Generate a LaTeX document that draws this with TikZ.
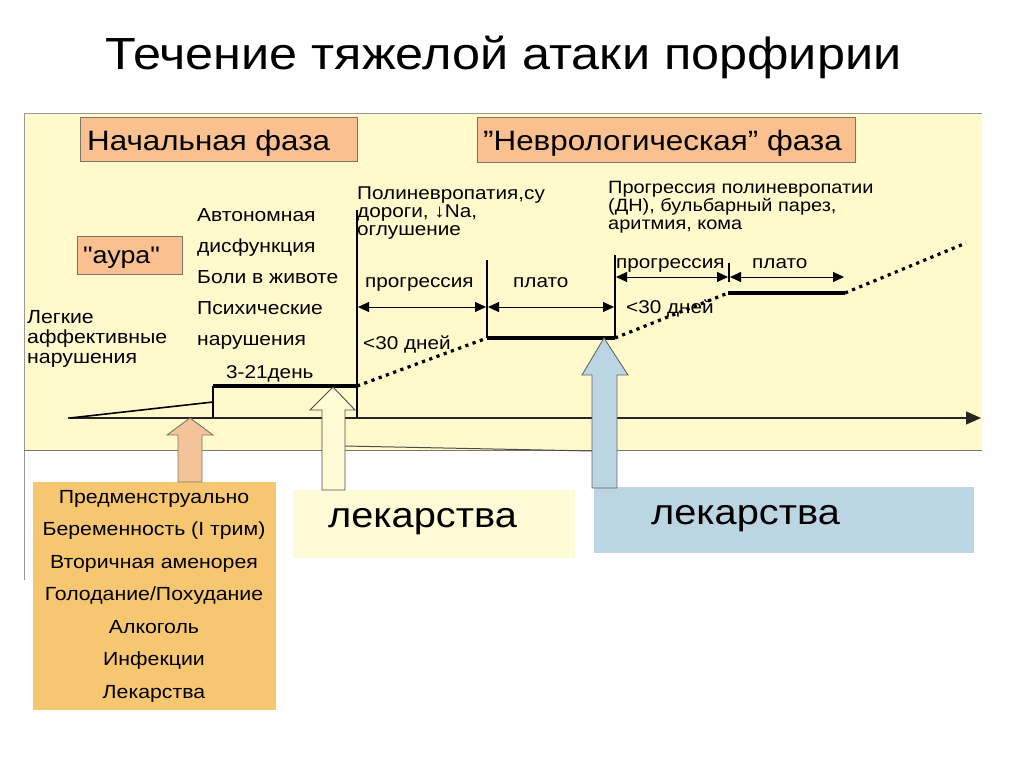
\documentclass[tikz,border=0pt]{standalone}
\usepackage{fontspec}
\setmainfont{Liberation Sans}[FakeStretch=1.12]
\newfontfamily\plainsans{Liberation Sans}[FakeStretch=1.12]
\usetikzlibrary{arrows.meta}
\definecolor{panel}{RGB}{255,249,204}
\definecolor{salmon}{RGB}{250,192,143}
\definecolor{gold}{RGB}{247,198,112}
\definecolor{paleblue}{RGB}{188,213,227}
\definecolor{paleyel}{RGB}{255,251,214}
\definecolor{arrowsal}{RGB}{244,196,152}
\definecolor{arrowyel}{RGB}{255,251,212}
\definecolor{edge}{RGB}{120,120,100}
\newcommand{\myfs}[2]{\fontsize{#1}{#2}\selectfont}
\begin{document}
\begin{tikzpicture}[x=1pt,y=-1pt,
  txt/.style={inner sep=0, anchor=base west, align=left},
  ctxt/.style={inner sep=0, anchor=base, align=center},
  phasebox/.style={draw=edge, fill=salmon, line width=0.8, inner sep=0},
  dimarrow/.style={line width=0.9, {Triangle[length=11,width=10]}-{Triangle[length=11,width=10]}},
  thickseg/.style={line width=3.5},
  dotseg/.style={line width=3.2, dash pattern=on 3.2 off 4.5},
  vline/.style={line width=1.6},
  blockarrow/.style={line width=0.9, line join=miter},
  small/.style={font=\myfs{18.5}{20}}
]
\useasboundingbox (0,0) rectangle (1024,768);

% title
\node[txt, font=\myfs{45}{54}] (title) at (105,70) {Течение тяжелой атаки порфирии};

% panel
\fill[panel] (24,113) rectangle (982,450);
\draw[black!40, line width=0.8] (982,113) -- (24,113) -- (24,580);
\draw[edge, line width=0.8] (24,450) -- (982,450);

% phase boxes
\node[phasebox, minimum width=277, minimum height=44] (nachbox) at (218.5,139) {};
\node[txt, font=\myfs{28}{32}] (nach) at (87,150) {Начальная фаза};
\node[phasebox, minimum width=378, minimum height=45] (nevrbox) at (666,139.5) {};
\node[txt, font=\myfs{28}{32}] (nevr) at (483,150) {”Неврологическая” фаза};
\node[phasebox, minimum width=105, minimum height=38] (aurabox) at (129.5,255) {};
\node[txt, font=\plainsans\myfs{24}{28}] (aura) at (83,263) {"аура"};

% texts (base anchor = baseline of the last line)
\node[txt, font=\myfs{19}{20}] (legk) at (27,363) {Легкие\\аффективные\\нарушения};
\node[txt, font=\myfs{18.8}{30.8}] (avto) at (197,345) {Автономная\\дисфункция\\Боли в животе\\Психические\\нарушения};
\node[txt, font=\myfs{18.5}{20}] (days) at (226,378) {3-21день};
\node[txt, font=\myfs{18.5}{17.8}] (poli) at (357,235) {Полиневропатия,су\\дороги, ↓Na,\\оглушение};
\node[txt, font=\myfs{17.8}{18}] (progpoli) at (608,229) {Прогрессия полиневропатии\\(ДН), бульбарный парез,\\аритмия, кома};

% key points
\coordinate (a0) at (70,418);
\coordinate (a1) at (213,402);
\coordinate (b0) at (213,386);
\coordinate (b1) at (213,418);
\coordinate (c0) at (357,386);
\coordinate (c1) at (357,210);
\coordinate (c2) at (357,418);
\coordinate (d0) at (487,338);
\coordinate (d1) at (487,260);
\coordinate (e0) at (615,338);
\coordinate (e1) at (615,255);
\coordinate (f0) at (728,293);
\coordinate (f1) at (729,263);
\coordinate (f2) at (729,282);
\coordinate (g0) at (845,293);
\coordinate (g1) at (966,243);
\coordinate (ax0) at (68,418);
\coordinate (ax1) at (981,418);

% axis
\draw[black!85, line width=1.3, -{Triangle[length=15,width=13]}] (ax0) -- (ax1);

% course line
\draw[line width=1.6] (a0) -- (a1);
\draw[line width=1.2] (b0) -- (b1);
\draw[thickseg] (b0) -- (c0);
\draw[vline] (c1) -- (c2);
\draw[dotseg] (c0) -- (d0);
\draw[thickseg] (d0) -- (e0);
\draw[vline] (d1) -- (d0);
\draw[vline] (e1) -- (e0);
\draw[dotseg] (e0) -- (f0);
\draw[thickseg] (f0) -- (g0);
\draw[line width=1.2] (f1) -- (f2);
\draw[dotseg] (g0) -- (g1);

% dimension arrows
\coordinate (p1a) at (358,307);
\coordinate (p1b) at (486,307);
\coordinate (q1a) at (488,307);
\coordinate (q1b) at (614,307);
\coordinate (p2a) at (616,277);
\coordinate (p2b) at (728,277);
\coordinate (q2a) at (730,277);
\coordinate (q2b) at (844,277);
\draw[dimarrow] (p1a) -- (p1b);
\draw[dimarrow] (q1a) -- (q1b);
\draw[dimarrow] (p2a) -- (p2b);
\draw[dimarrow] (q2a) -- (q2b);
\node[txt, small] (prog1) at (365,287) {прогрессия};
\node[txt, small] (plat1) at (513,287) {плато};
\node[txt, small] (less1) at (363,349) {<30 дней};
\node[txt, small] (prog2) at (616,268) {прогрессия};
\node[txt, small] (plat2) at (752,268) {плато};
\node[txt, small] (less2) at (626,313) {<30 дней};

% bottom boxes
\node[fill=gold, minimum width=243, minimum height=228, inner sep=0] (trig) at (154,596) {};
\node[ctxt, font=\myfs{19}{32.5}] (trigtxt) at (154,698) {Предменструально\\Беременность (I трим)\\Вторичная аменорея\\Голодание/Похудание\\Алкоголь\\Инфекции\\Лекарства};
\node[fill=paleyel, minimum width=282, minimum height=68, inner sep=0] (lek1box) at (434,524) {};
\node[txt, font=\myfs{35.5}{40}] (lek1) at (328,527) {лекарства};
\node[fill=paleblue, minimum width=380, minimum height=66, inner sep=0] (lek2box) at (784,520) {};
\node[txt, font=\myfs{35.5}{40}] (lek2) at (651,524) {лекарства};

% faint line between arrows
\draw[black!70, line width=1] (345,446) -- (592,451);

% block arrows
\draw[blockarrow, fill=arrowsal, draw=edge] (190,418) -- (213,435) -- (202,435) -- (202,482) -- (178,482) -- (178,435) -- (167,435) -- cycle;
\draw[blockarrow, fill=arrowyel, draw=black!70] (333,387) -- (355,410) -- (345,410) -- (345,490) -- (322,490) -- (322,410) -- (310,410) -- cycle;
\draw[blockarrow, fill=paleblue, draw=black!60] (604,338) -- (628,375) -- (617,375) -- (617,488) -- (592,488) -- (592,375) -- (582,375) -- cycle;
\end{tikzpicture}
\end{document}
